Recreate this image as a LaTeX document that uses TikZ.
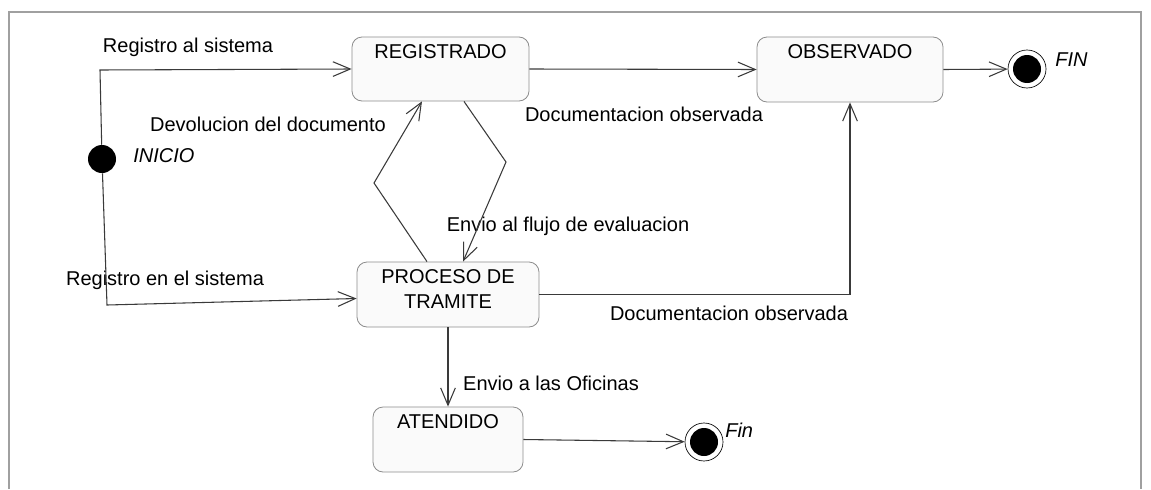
\documentclass[tikz,border=0pt]{standalone}
\usepackage{fontspec}
\setmainfont{Liberation Sans}
\usetikzlibrary{arrows.meta,positioning}
\definecolor{linegray}{HTML}{3A3A3A}
\definecolor{framegray}{HTML}{A0A0A0}
\definecolor{boxgray}{HTML}{8C8C8C}
\definecolor{boxfill}{HTML}{FAFAFA}
\begin{document}
\begin{tikzpicture}[
    x=0.75pt, y=-0.75pt,
    font=\fontsize{15}{18.75}\selectfont,
    state/.style={rectangle, draw=boxgray, fill=boxfill, rounded corners=7.5pt, line width=0.6pt, inner sep=0pt},
    toptext/.style={label={[anchor=center, yshift=-11.6pt]north:#1}},
    init/.style={circle, fill=black, minimum size=21pt, inner sep=0pt},
    final/.style={circle, draw=black, line width=0.5pt, minimum size=28.5pt, inner sep=0pt,
        path picture={\fill[black] (path picture bounding box.center) circle (10.5pt);}},
    lbl/.style={inner sep=0pt},
    arrow/.style={-{Straight Barb[length=13pt, width=11pt]}, draw=linegray, line width=0.8pt}
]
\useasboundingbox (0,0) rectangle (1151,489);

% Frame
\draw [framegray, line width=1.2pt] (9,489) -- (9,12) -- (1141,12) -- (1141,489);

% States
\node [state, minimum width=132.75pt, minimum height=48pt, toptext=REGISTRADO] (registrado) at (440.5,69) {};
\node [state, minimum width=139.5pt, minimum height=48.75pt, toptext=OBSERVADO] (observado) at (850,69.5) {};
\node [state, minimum width=136.5pt, minimum height=48.75pt,
    label={[align=center, yshift=3.75pt]center:PROCESO DE\\TRAMITE}] (proceso) at (448,294.5) {};
\node [state, minimum width=112.5pt, minimum height=48.75pt, toptext=ATENDIDO] (atendido) at (448,439.5) {};

% Initial and final states
\node [init] (inicio) at (102,159) {};
\node [lbl, font=\fontsize{15}{18}\selectfont\itshape, anchor=west] (inicio_txt) at (133,156) {INICIO};
\node [final] (fin_obs) at (1027,69) {};
\node [lbl, font=\fontsize{15}{18}\selectfont\itshape, anchor=west] (fin_obs_txt) at (1055,60) {FIN};
\node [final] (fin_ate) at (704,442) {};
\node [lbl, font=\fontsize{15}{18}\selectfont\itshape, anchor=west] (fin_ate_txt) at (725,430) {Fin};

% Bends
\coordinate (up_bend) at (100,70);
\coordinate (down_bend) at (107,305);
\coordinate (devol_bend) at (374,183);
\coordinate (envio_bend) at (506,162);

% Transition labels
\node [lbl] (reg_al_txt) at (188,47) {Registro al sistema};
\node [lbl] (devol_txt) at (268,124) {Devolucion del documento};
\node [lbl] (doc_obs_top_txt) at (644,114) {Documentacion observada};
\node [lbl] (envio_flujo_txt) at (568,226) {Envio al flujo de evaluacion};
\node [lbl] (reg_en_txt) at (165,280) {Registro en el sistema};
\node [lbl] (doc_obs_low_txt) at (729,313) {Documentacion observada};
\node [lbl] (envio_ofi_txt) at (551,383) {Envio a las Oficinas};

% Arrows
\draw [arrow] (inicio) -- (up_bend) -- (registrado.west);
\draw [arrow] (inicio) -- (down_bend) -- ([yshift=-3pt]proceso.west);
\draw [arrow] (registrado.east) -- (observado.west);
\draw [arrow] (observado.east) -- (fin_obs);
\draw [arrow] ([xshift=17.6pt]registrado.south) -- (envio_bend) -- ([xshift=11.25pt]proceso.north);
\draw [arrow] ([xshift=-15.75pt]proceso.north) -- (devol_bend) -- ([xshift=-13.9pt]registrado.south);
\draw [arrow] (proceso.east) -| (observado.south);
\draw [arrow] (proceso) -- (atendido);
\draw [arrow] (atendido.east) -- (fin_ate);

\end{tikzpicture}
\end{document}
